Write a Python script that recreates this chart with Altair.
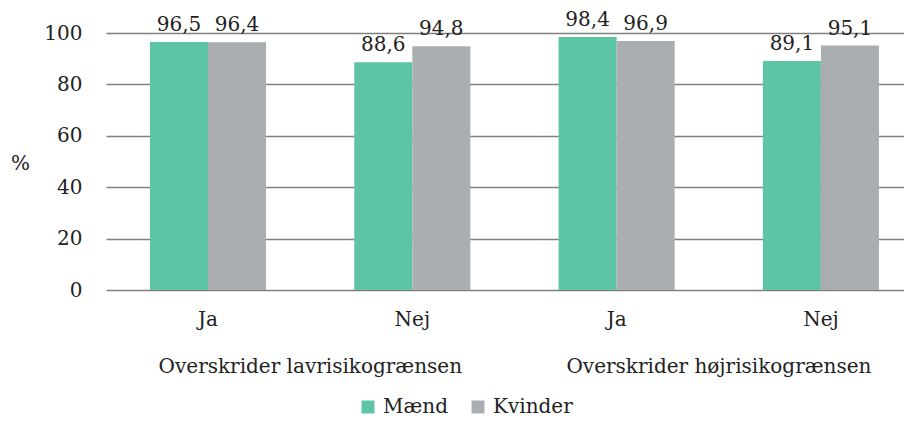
import altair as alt
import pandas as pd

groups = ["Overskrider lavrisikogrænsen", "Overskrider højrisikogrænsen"]
group_keys = ["lav", "høj"]
answers = ["Ja", "Nej"]
series = ["Mænd", "Kvinder"]
maend = [96.5, 88.6, 98.4, 89.1]
kvinder = [96.4, 94.8, 96.9, 95.1]
colors = ["#5DC4A5", "#ABAEB1"]

cats = [f"{g}|{a}" for g in group_keys for a in answers]
rows = []
for i, c in enumerate(cats):
    rows.append({"cat": c, "serie": series[0], "value": maend[i]})
    rows.append({"cat": c, "serie": series[1], "value": kvinder[i]})
df = pd.DataFrame(rows)
gdf = pd.DataFrame({"cat": [f"{g}|Nej" for g in group_keys], "label": groups})

FONT = "DejaVu Serif"
FS = 20

xscale = alt.Scale(domain=cats, paddingInner=0.432, paddingOuter=0.169, align=0.637)
x = alt.X("cat:N", scale=xscale, sort=cats,
          axis=alt.Axis(title=None, labelExpr="split(datum.label, '|')[1]", ticks=False,
                        domain=False, labelAngle=0, labelPadding=19, labelFontSize=FS,
                        labelFont=FONT, labelColor="#222"))
y = alt.Y("value:Q", scale=alt.Scale(domain=[0, 100]),
          axis=alt.Axis(title="%", titleAngle=0, titleX=-86, titleY=130, titleAlign="center",
                        titleBaseline="middle", titleFont=FONT, titleFontSize=FS,
                        titleFontWeight="normal", titleColor="#222",
                        values=[0, 20, 40, 60, 80, 100], ticks=False, domain=False,
                        labelPadding=24, labelFontSize=FS, labelFont=FONT, labelColor="#222",
                        grid=True, gridColor="#808080", gridWidth=1.5))

base = alt.Chart(df)
bars = base.mark_bar().encode(
    x=x, y=y,
    xOffset=alt.XOffset("serie:N", sort=series, scale=alt.Scale(domain=series)),
    color=alt.Color("serie:N", sort=series, scale=alt.Scale(domain=series, range=colors),
                    legend=alt.Legend(title=None, orient="none", direction="horizontal",
                                      legendX=252, legendY=364, symbolType="square",
                                      symbolSize=169, symbolStrokeWidth=0, labelFont=FONT,
                                      labelFontSize=FS, labelColor="#222", columnPadding=20,
                                      labelOffset=5)),
)
labels = base.transform_calculate(
    lbl="replace(format(datum.value, '.1f'), '.', ',')"
).mark_text(baseline="alphabetic", dy=-11, font=FONT, fontSize=FS, color="#222").encode(
    x=alt.X("cat:N", scale=xscale, sort=cats),
    xOffset=alt.XOffset("serie:N", sort=series, scale=alt.Scale(domain=series)),
    y="value:Q",
    text="lbl:N",
)
glabels = alt.Chart(gdf).mark_text(dx=-102, baseline="middle", font=FONT, fontSize=FS,
                                    color="#222").encode(
    x=alt.X("cat:N", scale=xscale, sort=cats),
    y=alt.value(334),
    text="label:N",
)

chart = alt.layer(bars, labels, glabels).properties(
    width=798, height=257,
    autosize=alt.AutoSizeParams(type="none"),
    padding={"left": 98, "top": 25, "right": 0, "bottom": 127},
).configure_view(stroke=None).configure_axis(gridOpacity=1)

chart.save("out.html", embed_options={"renderer": "svg", "actions": False})
